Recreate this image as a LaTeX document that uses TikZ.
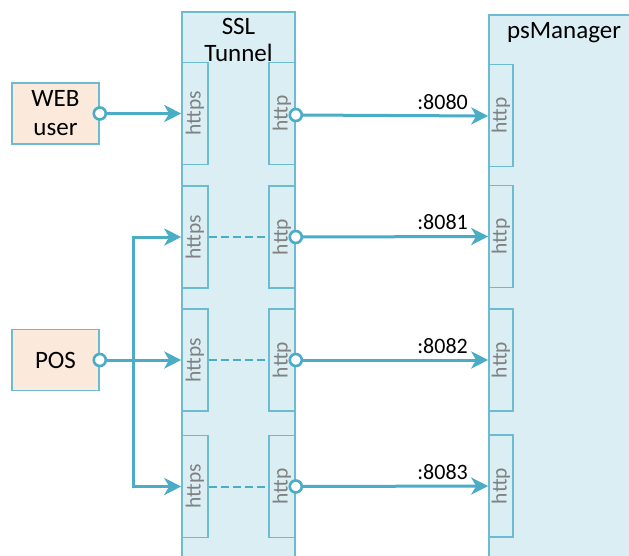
\documentclass[tikz,border=0pt]{standalone}
\usepackage{fontspec}
\setmainfont{Carlito}
\usetikzlibrary{arrows.meta}
\definecolor{lineblue}{HTML}{4BACC6}
\definecolor{bordblue}{HTML}{6DBBD1}
\definecolor{fillblue}{HTML}{DAEEF3}
\definecolor{fillorange}{HTML}{FBE9DC}
\definecolor{porttext}{HTML}{808080}
\tikzset{
  lane/.style={draw=bordblue, fill=fillblue, line width=1.6pt},
  portbox/.style={draw=bordblue, fill=fillblue, line width=1.6pt, rectangle, inner sep=0pt,
    minimum width=26pt, minimum height=102pt},
  porttxt/.style={rotate=90, text=porttext, font=\fontsize{21.5}{24}\selectfont},
  client/.style={draw=bordblue, fill=fillorange, line width=1.6pt, rectangle, inner sep=0pt,
    minimum width=87pt, minimum height=61pt, align=center, font=\fontsize{25}{29}\selectfont},
  title/.style={align=center, font=\fontsize{25}{27}\selectfont},
  conn/.style={draw=lineblue, line width=3pt, -{Stealth[length=17pt,width=17pt,inset=5pt]}},
  dashconn/.style={draw=lineblue, line width=2pt, dash pattern=on 8pt off 4pt},
  ring/.style={circle, draw=lineblue, fill=white, line width=2.6pt, minimum size=12pt, inner sep=0pt},
  portlabel/.style={font=\fontsize{22}{24}\selectfont, inner sep=1pt, anchor=south east}
}
\begin{document}
\begin{tikzpicture}[x=1pt,y=-1pt]
\useasboundingbox (0,0) rectangle (629,555);
% lanes
\draw[lane] (182,12) rectangle (295,560);
\draw[lane] (489,15) rectangle (640,560);
\node[title] (ssltitle) at (238.5,40) {SSL\\Tunnel};
\node[title] (pmtitle) at (564,33) {psManager};
% SSL ports
\foreach \i/\y in {1/113.5,2/237,3/360,4/486.5}{
  \node[portbox] (s\i) at (195,\y) {};
  \node[porttxt] at (s\i) {https};
  \node[portbox] (h\i) at (282,\y) {};
  \node[porttxt] at (h\i) {http};
}
% psManager ports
\foreach \i/\y in {1/115.5,2/236.5,3/360,4/486}{
  \node[portbox, minimum width=24pt] (p\i) at (501,\y) {};
  \node[porttxt] at (p\i) {http};
}
% clients
\node[client] (web) at (55.5,113.5) {WEB\\user};
\node[client] (pos) at (55.5,360) {POS};
% dashed internal links
\foreach \i in {2,3,4}{
  \draw[dashconn] (s\i.east) -- (h\i.west);
}
% web user
\draw[conn] (web.east) -- (s1.west);
% POS fan-out
\coordinate (split) at (133,360);
\draw[conn] (pos.east) -- (s3.west);
\draw[conn] (split) |- (s2.west);
\draw[conn] (split) |- (s4.west);
% tunnel to psManager
\draw[conn] (h1.east |- 0,115) -- (p1.west |- 0,116) node[portlabel, pos=0.907, above=4pt, anchor=south east] (l0) {:8080};
\draw[conn] (h2.east) -- (p2.west) node[portlabel, pos=0.907, above=4pt, anchor=south east] (l1) {:8081};
\draw[conn] (h3.east) -- (p3.west) node[portlabel, pos=0.907, above=4pt, anchor=south east] (l2) {:8082};
\draw[conn] (h4.east) -- (p4.west) node[portlabel, pos=0.907, above=4pt, anchor=south east] (l3) {:8083};
% rings
\node[ring] (r0) at (web.east) {};
\node[ring] (r1) at (pos.east) {};
\node[ring] (r2) at (h1.east |- 0,115) {};
\node[ring] (r3) at (h2.east) {};
\node[ring] (r4) at (h3.east) {};
\node[ring] (r5) at (h4.east) {};
\end{tikzpicture}
\end{document}
